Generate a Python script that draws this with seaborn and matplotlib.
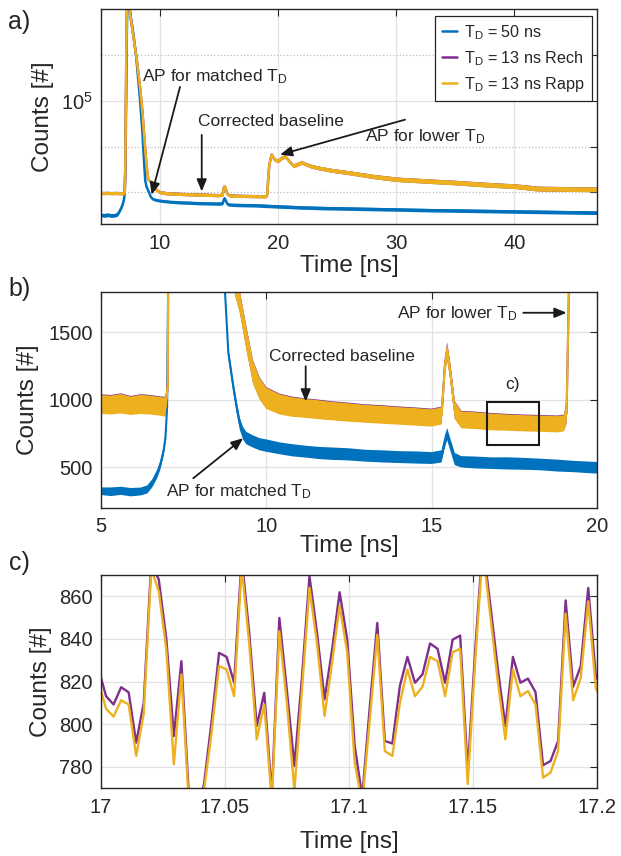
import numpy as np
import seaborn as sns
import matplotlib
matplotlib.use('Agg')
import matplotlib.pyplot as plt
from matplotlib.patches import Rectangle
from matplotlib.ticker import NullFormatter

# =========================================================
#  Data
# =========================================================
# T_D = 50 ns trace: time [ns], counts, noise half-width of the band
blue_t = [5.0, 5.3, 5.6, 5.9, 6.2, 6.4, 6.55, 6.7, 6.8, 6.9,
          6.95, 7.0, 7.05, 7.1, 7.15, 7.2, 7.28, 7.4, 7.55, 7.75,
          8.0, 8.3, 8.5, 8.65, 8.75, 8.85, 9.0, 9.1, 9.2, 9.3,
          9.4, 9.6, 9.8, 10.0, 10.4, 10.8, 11.2, 11.6, 12.0, 12.5,
          13.0, 13.5, 14.0, 14.5, 15.0, 15.3, 15.4, 15.47, 15.55, 15.7,
          15.9, 16.3, 16.8, 17.3, 17.8, 18.3, 18.8, 19.3, 19.8, 20.5,
          22, 24, 26, 28, 30, 33, 36, 40, 44, 47.2]
blue_counts = [322, 318, 325, 315, 320, 335, 380, 450, 520, 630,
               720, 950, 2500, 2.0e4, 4.0e5, 5.0e6, 3.0e7, 1.2e7, 6.0e6, 2.8e6,
               8.0e5, 1.1e5, 2.2e4, 4500, 1800, 1350, 1100, 950, 820, 750,
               715, 690, 670, 660, 640, 625, 615, 605, 600, 595,
               585, 580, 575, 572, 568, 580, 690, 745, 680, 560,
               540, 535, 530, 528, 525, 520, 512, 505, 498, 490,
               470, 455, 445, 435, 425, 410, 400, 385, 372, 362]
blue_noise = [28, 32, 30, 31, 29, 30, 30, 32, 34, 36,
              40, 40, 40, 40, 40, 40, 40, 40, 40, 40,
              40, 40, 40, 40, 40, 42, 44, 45, 45, 46,
              46, 45, 45, 46, 44, 45, 44, 45, 46, 45,
              44, 45, 44, 45, 44, 45, 45, 45, 45, 45,
              42, 44, 43, 45, 44, 43, 44, 42, 43, 42,
              40, 40, 38, 38, 36, 36, 35, 34, 34, 33]

# T_D = 13 ns Rapp trace (Rech lies a few counts above it)
rapp_t = [5.0, 5.3, 5.6, 5.9, 6.2, 6.5, 6.8, 6.95, 7.02, 7.06,
          7.1, 7.15, 7.2, 7.25, 7.35, 7.46, 7.6, 7.8, 8.0, 8.3,
          8.5, 8.7, 8.85, 9.0, 9.2, 9.4, 9.6, 9.8, 10.0, 10.4,
          10.8, 11.2, 11.6, 12.0, 12.5, 13.0, 13.5, 14.0, 14.5, 15.0,
          15.3, 15.4, 15.47, 15.55, 15.7, 15.9, 16.3, 16.8, 17.3, 17.8,
          18.3, 18.8, 19.0, 19.08, 19.15, 19.25, 19.45, 19.7, 20.0, 20.3,
          20.6, 21.0, 21.3, 21.7, 22.0, 22.7, 23.5, 24.5, 26, 28,
          30, 31.5, 33, 35, 37, 39, 40, 41, 42, 44,
          46, 47.2]
rapp_counts = [965, 960, 970, 955, 965, 960, 950, 945, 1100, 4000,
               6.0e4, 1.5e6, 1.5e7, 4.0e7, 1.6e7, 8.0e6, 4.5e6, 2.0e6, 9.0e5, 2.0e5,
               6.0e4, 1.2e4, 4000, 1900, 1720, 1450, 1200, 1080, 1010, 965,
               945, 935, 925, 915, 905, 895, 888, 880, 873, 865,
               880, 1250, 1355, 1230, 920, 850, 845, 835, 830, 825,
               822, 818, 825, 900, 1800, 4000, 6700, 5200, 4900, 5600,
               6100, 4600, 3800, 4200, 4500, 3800, 3400, 3050, 2700, 2250,
               1950, 1850, 1760, 1650, 1520, 1420, 1380, 1300, 1220, 1200,
               1180, 1170]
rapp_noise = [70, 70, 72, 68, 71, 70, 69, 72, 70, 70,
              70, 70, 70, 70, 70, 70, 70, 70, 70, 70,
              70, 70, 70, 75, 80, 85, 85, 80, 78, 75,
              72, 70, 70, 68, 68, 66, 66, 65, 65, 64,
              64, 64, 64, 64, 64, 62, 62, 62, 60, 60,
              60, 60, 60, 80, 150, 300, 500, 450, 420, 460,
              480, 400, 350, 380, 390, 350, 320, 300, 270, 240,
              220, 210, 200, 190, 180, 170, 165, 160, 150, 145,
              140, 140]
rech_offset = 5

# panel c: single samples, 17.0 - 17.2 ns
c_t0 = 16.999
c_dt = 0.003038
c_rech = [826, 813.2, 809.3, 817.4, 815, 791.4, 810, 876, 867.8, 840,
          794.5, 829.6, 766, 756, 772, 801, 833.5, 831.6, 819.5, 878,
          843, 799.2, 814.8, 767, 849.9, 816, 780.5, 822, 869.4, 843,
          811.7, 835, 861.9, 840, 790, 766, 808, 847.5, 792.2, 791,
          818, 831.6, 819.5, 823.4, 837.9, 835.4, 819.5, 839.7, 841.6, 778,
          835, 885, 856, 826, 799.2, 831.6, 819.5, 821.4, 815.1, 780.8,
          782.8, 792.2, 858.1, 817.6, 827.3, 863.9, 823, 815]
c_rapp = [820, 807.3, 803.6, 811.3, 809.3, 785.2, 805, 873, 862.3, 835,
          781.3, 823.4, 762, 752, 769, 796, 827.3, 825.7, 813.2, 874,
          838, 793, 809.3, 764, 843.6, 810, 769, 816, 864, 838,
          803.9, 829, 855.6, 834, 782, 763, 802, 842, 787.5, 785.2,
          810, 825.7, 813.2, 817.6, 831.6, 829.6, 813.2, 833.8, 835.4, 772,
          830, 882, 851, 820, 793, 825.7, 813.2, 815.6, 809.3, 775,
          777.4, 787.5, 851.9, 811.3, 821.8, 857.7, 817, 809]
c_time = c_t0 + c_dt * np.arange(len(c_rech))

labels = ['T$_\\mathrm{D}$ = 50 ns', 'T$_\\mathrm{D}$ = 13 ns Rech',
          'T$_\\mathrm{D}$ = 13 ns Rapp']

# =========================================================
#  Style
# =========================================================
sns.set_theme(style='white')
plt.rcParams['font.family'] = ['Liberation Sans', 'DejaVu Sans']
plt.rcParams['mathtext.fontset'] = 'custom'
plt.rcParams['mathtext.rm'] = 'Liberation Sans'
plt.rcParams['mathtext.it'] = 'Liberation Sans:italic'
plt.rcParams['mathtext.bf'] = 'Liberation Sans:bold'

BLUE, PURPLE, ORANGE = '#0072BD', '#7E2F8E', '#EDB120'
AXC = '#262626'
W, H = 621, 856

fig = plt.figure(figsize=(W / 100, H / 100), dpi=100)


def add_axes(left, top, right, bottom):
    return fig.add_axes([left / W, 1 - bottom / H, (right - left) / W, (bottom - top) / H])


def style(ax):
    for s in ax.spines.values():
        s.set_visible(True)
        s.set_color(AXC)
        s.set_linewidth(1.0)
    ax.tick_params(which='both', direction='in', top=True, right=True, length=5,
                   width=0.8, colors=AXC, labelsize=14.5)
    ax.tick_params(axis='x', pad=7)
    ax.tick_params(axis='y', pad=6)
    ax.grid(True, which='major', color='#e2e2e2', lw=0.9)
    ax.set_axisbelow(True)


arrow = dict(arrowstyle='-|>,head_length=0.6,head_width=0.25', color='k', lw=1.3,
             mutation_scale=12, shrinkA=0, shrinkB=0)
ann_fs = 12.5

ax_a = add_axes(101, 9, 597, 224)
ax_b = add_axes(101, 291.7, 597, 507.7)
ax_c = add_axes(101, 575, 597, 788.3)

blue_c, blue_w = np.array(blue_counts), np.array(blue_noise)
rapp_c, rapp_w = np.array(rapp_counts), np.array(rapp_noise)


def draw_traces(ax, lw, legend):
    # noise band + centre line per trace; Rech sits just under Rapp
    ax.fill_between(blue_t, blue_c - blue_w, blue_c + blue_w, color=BLUE, lw=0, zorder=2.0)
    sns.lineplot(x=blue_t, y=blue_counts, ax=ax, color=BLUE, lw=lw, sort=False,
                 estimator=None, label=labels[0] if legend else None, zorder=2.1)
    ax.fill_between(rapp_t, rapp_c - rapp_w + rech_offset, rapp_c + rapp_w + rech_offset,
                    color=PURPLE, lw=0, zorder=2.2)
    sns.lineplot(x=rapp_t, y=rapp_c + rech_offset, ax=ax, color=PURPLE, lw=lw, sort=False,
                 estimator=None, label=labels[1] if legend else None, zorder=2.3)
    ax.fill_between(rapp_t, rapp_c - rapp_w, rapp_c + rapp_w, color=ORANGE, lw=0, zorder=2.4)
    sns.lineplot(x=rapp_t, y=rapp_counts, ax=ax, color=ORANGE, lw=lw, sort=False,
                 estimator=None, label=labels[2] if legend else None, zorder=2.5)


# =========================================================
#  a) full trace, log scale
# =========================================================
draw_traces(ax_a, 1.8, True)
ax_a.set_yscale('log')
ax_a.set_xlim(5, 47)
ax_a.set_ylim(205, 1e7)
style(ax_a)
ax_a.set_xticks([10, 20, 30, 40])
ax_a.set_yticks([1e5])
ax_a.set_yticklabels(['$10^{5}$'])
ax_a.set_yticks([1e3, 1e4, 1e6], minor=True)
ax_a.yaxis.set_minor_formatter(NullFormatter())
ax_a.grid(True, which='minor', axis='y', color='#bdbdbd', ls=':', lw=0.9)

ax_a.text(8.44, 3.4e5, 'AP for matched T$_\\mathrm{D}$', fontsize=ann_fs, ha='left', va='center')
ax_a.annotate('', xy=(9.29, 890), xytext=(11.69, 2.0e5), arrowprops=arrow)
ax_a.text(13.24, 3.5e4, 'Corrected baseline', fontsize=ann_fs, ha='left', va='center')
ax_a.annotate('', xy=(13.53, 1050), xytext=(13.53, 1.8e4), arrowprops=arrow)
ax_a.text(27.35, 1.66e4, 'AP for lower T$_\\mathrm{D}$', fontsize=ann_fs, ha='left', va='center')
ax_a.annotate('', xy=(20.16, 6650), xytext=(30.74, 3.86e4), arrowprops=arrow)

leg = ax_a.legend(loc='upper right', bbox_to_anchor=((592 - 101) / 496, (224 - 15.7) / 215),
                  borderaxespad=0, fontsize=11.6, handlelength=0.9, handletextpad=0.45,
                  labelspacing=0.45, borderpad=0.45, frameon=True, fancybox=False,
                  edgecolor=AXC, framealpha=1)
leg.get_frame().set_linewidth(0.9)
leg.set_zorder(10)

# =========================================================
#  b) linear zoom on the baseline
# =========================================================
draw_traces(ax_b, 1.5, False)
ax_b.set_xlim(5, 20)
ax_b.set_ylim(200, 1800)
style(ax_b)
ax_b.set_xticks([5, 10, 15, 20])
ax_b.set_yticks([500, 1000, 1500])

ax_b.text(13.94, 1637, 'AP for lower T$_\\mathrm{D}$', fontsize=ann_fs, ha='left', va='center')
ax_b.annotate('', xy=(19.08, 1644), xytext=(17.77, 1644), arrowprops=arrow)
ax_b.text(10.09, 1322, 'Corrected baseline', fontsize=ann_fs, ha='left', va='center')
ax_b.annotate('', xy=(11.19, 987), xytext=(11.19, 1248), arrowprops=arrow)
ax_b.text(6.97, 319, 'AP for matched T$_\\mathrm{D}$', fontsize=ann_fs, ha='left', va='center')
ax_b.annotate('', xy=(9.3, 715), xytext=(7.79, 418), arrowprops=arrow)
ax_b.add_patch(Rectangle((16.66, 662), 18.24 - 16.66, 983 - 662, fill=False, ec='k', lw=1.5, zorder=5))
ax_b.text(17.44, 1111, 'c)', fontsize=ann_fs, ha='center', va='center')

# =========================================================
#  c) single samples, Rech vs Rapp
# =========================================================
sns.lineplot(x=c_time, y=c_rech, ax=ax_c, color=PURPLE, lw=1.7, sort=False, estimator=None)
sns.lineplot(x=c_time, y=c_rapp, ax=ax_c, color=ORANGE, lw=1.7, sort=False, estimator=None)
ax_c.set_xlim(17, 17.2)
ax_c.set_ylim(770, 870)
style(ax_c)
ax_c.set_xticks([17, 17.05, 17.1, 17.15, 17.2])
ax_c.set_xticklabels(['17', '17.05', '17.1', '17.15', '17.2'])
ax_c.set_yticks([780, 800, 820, 840, 860])

# =========================================================
#  Labels
# =========================================================
for ax, ylx, xly in [(ax_a, -0.117, -0.194), (ax_b, -0.147, -0.177), (ax_c, -0.121, -0.254)]:
    ax.set_ylabel('Counts [#]', fontsize=17.5, color=AXC)
    ax.yaxis.label.set_verticalalignment('center')
    ax.yaxis.set_label_coords(ylx, 0.5)
    ax.set_xlabel('Time [ns]', fontsize=17.5, color=AXC)
    ax.xaxis.label.set_verticalalignment('center')
    ax.xaxis.set_label_coords(0.5, xly)

fig.text(8 / W, 1 - 22.5 / H, 'a)', fontsize=18, ha='left', va='center')
fig.text(8 / W, 1 - 289 / H, 'b)', fontsize=18, ha='left', va='center')
fig.text(9 / W, 1 - 563 / H, 'c)', fontsize=18, ha='left', va='center')

fig.savefig('out.png', dpi=100)
